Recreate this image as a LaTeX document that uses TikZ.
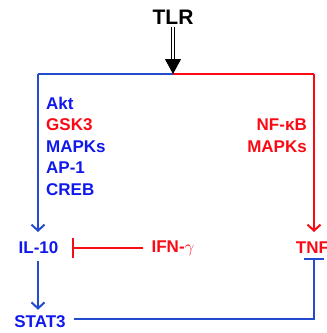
\documentclass[tikz,border=0pt]{standalone}
\usepackage{fontspec}
\setmainfont{Liberation Sans}
\usetikzlibrary{arrows.meta}
\definecolor{lblue}{RGB}{35,75,205}
\definecolor{tblue}{RGB}{15,25,235}
\definecolor{tred}{RGB}{250,10,20}
\tikzset{
  lbl/.style={inner sep=3pt, font=\fontsize{17}{20}\selectfont\bfseries},
  bl/.style={lbl, text=tblue},
  rd/.style={lbl, text=tred},
  bline/.style={draw=lblue, line width=2pt},
  rline/.style={draw=tred, line width=2pt},
  act/.style={-{Straight Barb[length=6pt,width=13pt,line width=2pt]}},
  inh/.style={-{Bar[width=20pt,line width=2pt]}}
}
\begin{document}
\begin{tikzpicture}[x=1pt,y=-1pt]
\useasboundingbox (0,0) rectangle (327,333);
\node[lbl, font=\fontsize{21}{25}\selectfont\bfseries] (tlr) at (173,17) {TLR};
\coordinate (top) at (173,74);
\coordinate (tl) at (38,74);
\coordinate (tr) at (314,74);
\node[bl] (il10) at (38.5,248) {IL-10};
\node[rd] (tnf) at (312.5,248) {TNF};
\node[rd] (ifn) at (173,248) {IFN-$\gamma$};
\node[bl] (stat3) at (40,322) {STAT3};
% left list
\node[bl, anchor=west] (akt) at (43,103) {Akt};
\node[rd, anchor=west] (gsk) at (43,125) {GSK3};
\node[bl, anchor=west] (mapl) at (43,147) {MAPKs};
\node[bl, anchor=west] (ap1) at (43,168) {AP-1};
\node[bl, anchor=west] (creb) at (43,190) {CREB};
% right list
\node[rd, anchor=east] (nfkb) at (310,125) {NF-κB};
\node[rd, anchor=east] (mapr) at (310,147) {MAPKs};
% connectors
\draw[bline] (top) -- (tl);
\draw[rline] (top) -- (tr);
\draw[bline, act] (tl) -- (tl |- 0,232);
\draw[rline, act] (tr) -- (tr |- 0,232);
\draw[double=white, double distance=2.6pt, line width=0.8pt, -{Triangle[length=15pt,width=16pt]}] (tlr.south) -- (top);
\draw[rline, inh, shorten <=5pt, shorten >=10pt] (ifn.west) -- (il10.east);
\draw[bline, act, shorten <=4pt, shorten >=3pt] (il10.south -| tl) -- (tl |- stat3.north);
\draw[bline, inh, shorten <=5pt] (stat3.east |- 0,319) -| ([yshift=-1pt]tnf.south -| tr);
\end{tikzpicture}
\end{document}
